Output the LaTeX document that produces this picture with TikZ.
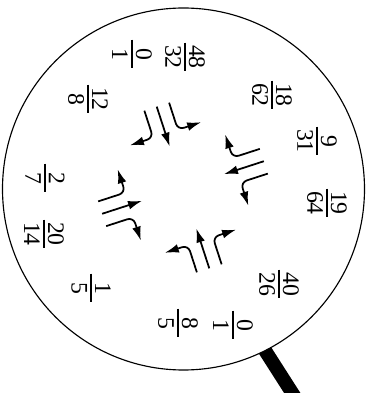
\documentclass[tikz,border=0pt]{standalone}
\usepackage{fontspec}
\setmainfont{Liberation Serif}
\usepackage{tikz}
\usetikzlibrary{arrows.meta, calc}
\newcommand{\ratio}[2]{\vbox{\hbox to 1.15cm{\hss#1\hss}\kern3.5pt\hrule height 2pt\kern3.5pt\hbox to 1.15cm{\hss#2\hss}}}
\tikzset{
  frac/.style={rotate=-90, inner sep=0pt, font=\fontsize{27}{32}\selectfont},
  lane/.style={line width=2pt, rounded corners=0.25cm, -{Latex[length=16pt, width=10pt]}},
  lens/.style={draw, fill=white, line width=1.3pt}
}

\begin{document}
\begin{tikzpicture}
  \clip (0,0) rectangle (14.76,15.72);
  \coordinate (ctr) at (7.34,8.16);
  \coordinate (mid) at (7.32,8.22);

  % Handle, under the lens
  \coordinate (hnd) at ($(ctr)+(-63.2:7.24)$);
  \draw[line width=0.55cm] ($(hnd)+(122.6:0.6)$) -- ($(hnd)+(-57.4:3)$);

  % Lens
  \draw[lens] (ctr) circle (7.24);

  % Fractions round the rim
  \node[frac] (q0x1a) at (5.28,13.56) {\ratio{0}{1}};
  \node[frac] (q48x32) at (7.40,13.44) {\ratio{48}{32}};
  \node[frac] (q12x8) at (3.52,11.76) {\ratio{12}{8}};
  \node[frac] (q18x62) at (10.88,11.92) {\ratio{18}{62}};
  \node[frac] (q9x31) at (12.68,10.08) {\ratio{9}{31}};
  \node[frac] (q19x64) at (13.08,7.60) {\ratio{19}{64}};
  \node[frac] (q2x7) at (1.80,8.60) {\ratio{2}{7}};
  \node[frac] (q20x14) at (1.76,6.36) {\ratio{20}{14}};
  \node[frac] (q1x5) at (3.64,4.20) {\ratio{1}{5}};
  \node[frac] (q40x26) at (11.16,4.36) {\ratio{40}{26}};
  \node[frac] (q8x5) at (7.12,2.80) {\ratio{8}{5}};
  \node[frac] (q0x1b) at (9.32,2.72) {\ratio{0}{1}};

  % Lanes of the crossing, one set per side
  \foreach \a in {18,108,198,288} {
    \begin{scope}[shift={(mid)}, rotate=\a]
      \draw[lane] (0,-3.40) -- (0,-1.72);
      \draw[lane] (0.52,-3.40) -- (0.52,-2.26) -- (1.5,-2.26);
      \draw[lane] (-0.52,-3.40) -- (-0.52,-2.26) -- (-1.5,-2.26);
    \end{scope}
  }
\end{tikzpicture}
\end{document}
